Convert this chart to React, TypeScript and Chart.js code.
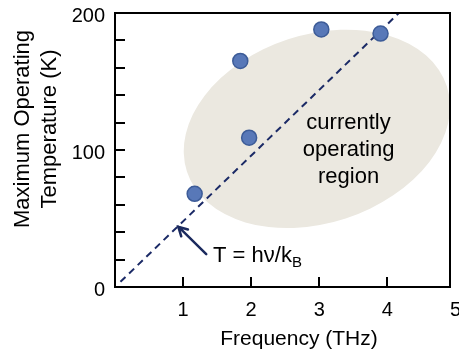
import React, { useEffect, useRef } from "react";
import { Chart, registerables } from "chart.js";

Chart.register(...registerables);

// ---- data ----
const freqTHz = [1.17, 1.84, 1.97, 3.03, 3.9];
const maxTempK = [68, 165, 109, 188, 185];
const limitFreq = [0.08, 4.17];
const limitTemp = [3.8, 200];
const xTickValues = [1, 2, 3, 4, 5];
const yLabelValues = [0, 100, 200];
const xRange = [0, 4.92];
const yRange = [0, 200];
const yStep = 20;
const regionCenter = [2.965, 115.4];
const regionMajorAxis = [1.909, 31.1];
const regionMinorAxis = [0.423, -65.4];
const regionText = ["currently", "operating", "region"];
const regionTextAt = [3.43, 100];
const formulaMain = "T = h\u03bd/k";
const formulaSub = "B";
const formulaAt = [1.44, 23];
const arrowFrom = [1.34, 24];
const arrowTo = [0.93, 44];
const xTitle = "Frequency (THz)";
const yTitle = ["Maximum Operating", "Temperature (K)"];

const FONT = "'Liberation Sans', Arial, Helvetica, sans-serif";

const decorPlugin = {
  id: "decor",
  beforeDatasetsDraw(chart: any) {
    const { ctx, chartArea: a } = chart;
    const xs = chart.scales.x;
    const ys = chart.scales.y;
    const cx = xs.getPixelForValue(regionCenter[0]);
    const cy = ys.getPixelForValue(regionCenter[1]);
    const ax = xs.getPixelForValue(regionCenter[0] + regionMajorAxis[0]) - cx;
    const ay = ys.getPixelForValue(regionCenter[1] + regionMajorAxis[1]) - cy;
    const bx = xs.getPixelForValue(regionCenter[0] + regionMinorAxis[0]) - cx;
    const by = ys.getPixelForValue(regionCenter[1] + regionMinorAxis[1]) - cy;
    ctx.save();
    ctx.beginPath();
    ctx.rect(a.left, a.top, a.right - a.left, a.bottom - a.top);
    ctx.clip();
    ctx.save();
    ctx.transform(ax, ay, bx, by, cx, cy);
    ctx.beginPath();
    ctx.arc(0, 0, 1, 0, Math.PI * 2);
    ctx.restore();
    ctx.fillStyle = "#ebe8e0";
    ctx.fill();
    ctx.restore();

    // region text
    ctx.save();
    ctx.fillStyle = "#000";
    ctx.font = `22px ${FONT}`;
    ctx.textAlign = "center";
    ctx.textBaseline = "middle";
    const tx = xs.getPixelForValue(regionTextAt[0]);
    const ty = ys.getPixelForValue(regionTextAt[1]);
    regionText.forEach((t, i) => ctx.fillText(t, tx, ty + (i - 1) * 27));
    ctx.restore();
  },
  afterDraw(chart: any) {
    const { ctx, chartArea: a } = chart;
    const xs = chart.scales.x;
    const ys = chart.scales.y;
    ctx.save();
    ctx.strokeStyle = "#000";
    ctx.lineWidth = 2;
    // ticks
    ctx.beginPath();
    ys.ticks.forEach((t: any) => {
      const y = Math.round(ys.getPixelForValue(t.value));
      ctx.moveTo(a.left, y);
      ctx.lineTo(a.left + 10, y);
    });
    xs.ticks.forEach((t: any) => {
      if (t.value <= xs.min || t.value >= xs.max) return;
      const x = Math.round(xs.getPixelForValue(t.value));
      ctx.moveTo(x, a.bottom);
      ctx.lineTo(x, a.bottom - 10);
    });
    ctx.stroke();
    ctx.strokeRect(a.left, a.top, a.right - a.left, a.bottom - a.top);
    ctx.restore();

    // arrow
    const fx = xs.getPixelForValue(arrowFrom[0]);
    const fy = ys.getPixelForValue(arrowFrom[1]);
    const hx = xs.getPixelForValue(arrowTo[0]);
    const hy = ys.getPixelForValue(arrowTo[1]);
    const ang = Math.atan2(hy - fy, hx - fx);
    ctx.save();
    ctx.strokeStyle = "#1b2a5e";
    ctx.lineWidth = 2.5;
    ctx.lineCap = "round";
    ctx.beginPath();
    ctx.moveTo(fx, fy);
    ctx.lineTo(hx, hy);
    const hl = 10;
    ctx.moveTo(hx + hl * Math.cos(ang + Math.PI - 0.5), hy + hl * Math.sin(ang + Math.PI - 0.5));
    ctx.lineTo(hx, hy);
    ctx.lineTo(hx + hl * Math.cos(ang + Math.PI + 0.5), hy + hl * Math.sin(ang + Math.PI + 0.5));
    ctx.stroke();
    ctx.restore();

    // formula
    ctx.save();
    ctx.fillStyle = "#000";
    ctx.textBaseline = "alphabetic";
    ctx.textAlign = "left";
    const lx = xs.getPixelForValue(formulaAt[0]);
    const ly = ys.getPixelForValue(formulaAt[1]) + 7;
    ctx.font = `22px ${FONT}`;
    ctx.fillText(formulaMain, lx, ly);
    const w = ctx.measureText(formulaMain).width;
    ctx.font = `15px ${FONT}`;
    ctx.fillText(formulaSub, lx + w, ly + 5);
    ctx.restore();

    // axis titles
    ctx.save();
    ctx.fillStyle = "#000";
    ctx.font = `21px ${FONT}`;
    ctx.textAlign = "center";
    ctx.textBaseline = "alphabetic";
    ctx.fillText(xTitle, 299, 345);
    ctx.font = `22px ${FONT}`;
    ctx.translate(0, 129);
    ctx.rotate(-Math.PI / 2);
    ctx.textBaseline = "middle";
    yTitle.forEach((t, i) => ctx.fillText(t, 0, 23 + i * 27));
    ctx.restore();
  },
};

export default function App() {
  const ref = useRef<HTMLCanvasElement>(null);
  useEffect(() => {
    if (!ref.current) return;
    const chart = new Chart(ref.current, {
      type: "scatter",
      data: {
        datasets: [
          {
            type: "scatter",
            data: freqTHz.map((x, i) => ({ x, y: maxTempK[i] })),
            backgroundColor: "#5878b8",
            borderColor: "#3d5c98",
            borderWidth: 1.5,
            pointRadius: 7.5,
            order: 1,
          },
          {
            type: "line",
            data: limitFreq.map((x, i) => ({ x, y: limitTemp[i] })),
            borderColor: "#1b2a66",
            borderWidth: 2,
            borderDash: [7, 5],
            pointRadius: 0,
            fill: false,
            order: 2,
          } as any,
        ],
      },
      options: {
        responsive: false,
        animation: false,
        events: [],
        layout: { padding: { left: 0, right: 6, top: 13, bottom: 0 } },
        plugins: { legend: { display: false }, tooltip: { enabled: false } },
        scales: {
          x: {
            type: "linear",
            min: xRange[0],
            max: xRange[1],
            grid: { display: false, drawTicks: false },
            border: { display: false },
            afterBuildTicks: (s: any) => {
              s.ticks = xTickValues.map((v) => ({ value: v }));
            },
            afterFit: (s: any) => {
              s.height = 67;
              s.paddingLeft = 0;
              s.paddingRight = 0;
            },
            ticks: {
              autoSkip: false,
              maxRotation: 0,
              padding: 11,
              color: "#000",
              font: { family: FONT, size: 20 },
              callback: (v: any) => String(v),
            },
          },
          y: {
            type: "linear",
            min: yRange[0],
            max: yRange[1],
            grid: { display: false, drawTicks: false },
            border: { display: false },
            afterFit: (s: any) => {
              s.width = 115;
              s.paddingTop = 0;
              s.paddingBottom = 0;
            },
            ticks: {
              stepSize: yStep,
              autoSkip: false,
              padding: 10,
              labelOffset: 3,
              color: "#000",
              font: { family: FONT, size: 20 },
              callback: (v: any) => (yLabelValues.includes(Number(v)) ? String(v) : ""),
            },
          },
        },
      },
      plugins: [decorPlugin],
    });
    return () => chart.destroy();
  }, []);
  return (
    <div style={{ position: "fixed", left: 0, top: 0, width: 459, height: 354, background: "#fff" }}>
      <canvas ref={ref} width={459} height={354} style={{ display: "block" }} />
    </div>
  );
}
